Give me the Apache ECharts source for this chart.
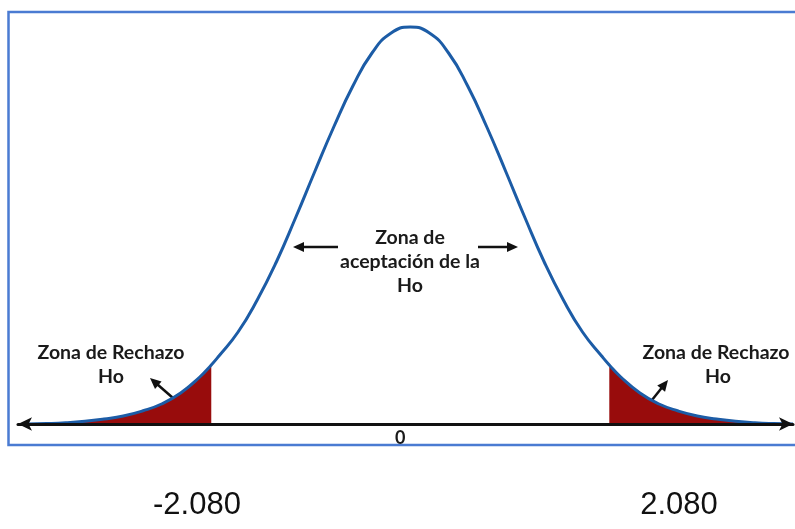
<!DOCTYPE html>
<html>
<head>
<meta charset="utf-8">
<script src="https://cdn.jsdelivr.net/npm/echarts@6/dist/echarts.min.js"></script>
<style>
  html, body { margin: 0; padding: 0; background: #fff; }
  #chart { width: 795px; height: 529px; }
</style>
</head>
<body>
<div id="chart"></div>
<script>
// valores (t y altura de la curva)
const tValues = [-4.0, -3.8, -3.6, -3.4, -3.2, -3.0, -2.8, -2.6, -2.4, -2.2, -2.08, -2.0, -1.8, -1.6, -1.4, -1.2, -1.0, -0.8, -0.6, -0.4, -0.2,
  0, 0.2, 0.4, 0.6, 0.8, 1.0, 1.2, 1.4, 1.6, 1.8, 2.0, 2.08, 2.2, 2.4, 2.6, 2.8, 3.0, 3.2, 3.4, 3.6, 3.8, 4.0];
const heights = [0, 0.4, 1.2, 2.7, 5, 8, 13, 20, 31, 47, 59, 68, 92, 124, 162, 206, 252, 297, 338, 371, 391,
  397, 391, 371, 338, 297, 252, 206, 162, 124, 92, 68, 59, 47, 31, 20, 13, 8, 5, 2.7, 1.2, 0.4, 0];
const critValue = 2.08;
const critLabels = ['-2.080', '2.080'];
const zeroTick = [0];
const rejectText = ['Zona de Rechazo', 'Ho'];
const acceptText = ['Zona de', 'aceptación de la', 'Ho'];

const curve = tValues.map((t, i) => [t, heights[i]]);
const leftTail = curve.filter(p => p[0] <= -critValue);
const rightTail = curve.filter(p => p[0] >= critValue);

// flecha: linea + punta
function arrow(x1, y1, x2, y2) {
  const a = Math.atan2(y2 - y1, x2 - x1);
  const L = 11, W = 5;
  const c = Math.cos(a), s = Math.sin(a);
  return {
    type: 'group',
    children: [
      { type: 'line', shape: { x1: x1, y1: y1, x2: x2 - L * 0.7 * c, y2: y2 - L * 0.7 * s },
        style: { stroke: '#111', lineWidth: 2.5 } },
      { type: 'polygon', shape: { points: [[x2, y2], [x2 - L * c + W * s, y2 - L * s - W * c], [x2 - L * c - W * s, y2 - L * s + W * c]] },
        style: { fill: '#111' } }
    ]
  };
}

const textFont = { fontFamily: 'Lato', fontWeight: 'bold', fontSize: 19.5, fill: '#1a1a1a', align: 'center', verticalAlign: 'middle' };

const chart = echarts.init(document.getElementById('chart'));
chart.setOption({
  animation: false,
  grid: { left: 18, right: 2, top: 24, bottom: 105 },
  xAxis: {
    type: 'value',
    min: -4.1,
    max: 4.0,
    z: 10,
    splitLine: { show: false },
    axisTick: { show: false },
    axisLine: {
      onZero: false,
      symbol: ['arrow', 'arrow'],
      symbolSize: [10, 14],
      lineStyle: { color: '#111', width: 3 }
    },
    axisLabel: {
      customValues: zeroTick,
      margin: 5,
      padding: [0, 20, 0, 0],
      fontFamily: 'Lato',
      fontWeight: 'bold',
      fontSize: 18,
      color: '#1a1a1a'
    }
  },
  yAxis: { type: 'value', min: 0, max: 400, show: false },
  series: [
    {
      type: 'line', data: leftTail, smooth: 0.5, symbol: 'none',
      lineStyle: { width: 0 }, areaStyle: { color: '#980c0c', opacity: 1 }
    },
    {
      type: 'line', data: rightTail, smooth: 0.5, symbol: 'none',
      lineStyle: { width: 0 }, areaStyle: { color: '#980c0c', opacity: 1 }
    },
    {
      type: 'line', data: curve, smooth: 0.5, symbol: 'none',
      lineStyle: { color: '#1c5ca6', width: 3 }
    }
  ],
  graphic: [
    { type: 'rect', z: -1, shape: { x: 8.5, y: 12, width: 800, height: 433 },
      style: { fill: 'none', stroke: '#4a7bd2', lineWidth: 2.5 } },
    { type: 'text', x: 111, y: 353, style: Object.assign({ text: rejectText[0] }, textFont) },
    { type: 'text', x: 111, y: 377, style: Object.assign({ text: rejectText[1] }, textFont) },
    { type: 'text', x: 716, y: 353, style: Object.assign({ text: rejectText[0] }, textFont) },
    { type: 'text', x: 718, y: 377, style: Object.assign({ text: rejectText[1] }, textFont) },
    { type: 'text', x: 410, y: 238, style: Object.assign({ text: acceptText[0] }, textFont) },
    { type: 'text', x: 410, y: 262, style: Object.assign({ text: acceptText[1] }, textFont) },
    { type: 'text', x: 410, y: 286, style: Object.assign({ text: acceptText[2] }, textFont) },
    arrow(173, 398, 150, 378),
    arrow(652, 400, 668, 380),
    arrow(338, 247, 293, 247),
    arrow(478, 247, 518, 247),
    { type: 'text', x: 197, y: 505, style: { text: critLabels[0], fontFamily: 'Liberation Sans', fontSize: 31, fill: '#111', align: 'center', verticalAlign: 'middle' } },
    { type: 'text', x: 679, y: 505, style: { text: critLabels[1], fontFamily: 'Liberation Sans', fontSize: 31, fill: '#111', align: 'center', verticalAlign: 'middle' } }
  ]
});
</script>
</body>
</html>
